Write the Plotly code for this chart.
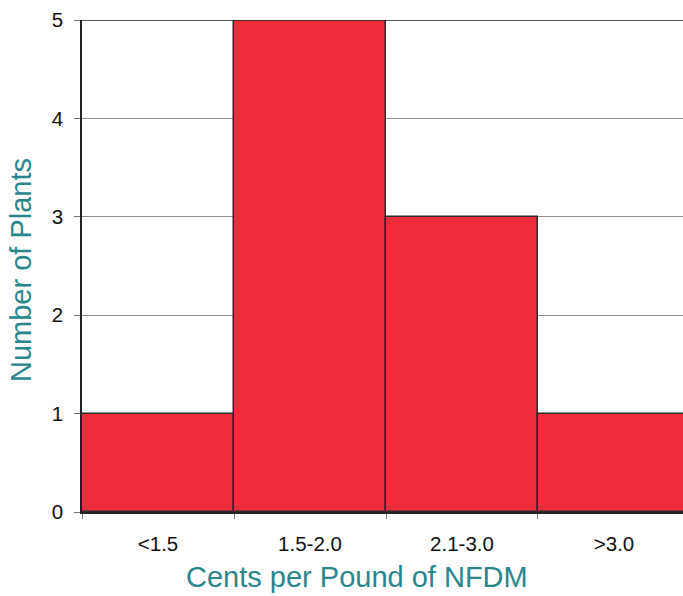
import plotly.graph_objects as go

# Price bins (cents per pound of NFDM) and plant counts per bin
categories = ["<1.5", "1.5-2.0", "2.1-3.0", ">3.0"]
plant_counts = [1, 5, 3, 1]
y_ticks = [0, 1, 2, 3, 4, 5]

TITLE_COLOR = "#2B868C"

fig = go.Figure(
    go.Bar(
        x=categories,
        y=plant_counts,
        marker=dict(color="#EF2D3A", line=dict(color="#2a2a2a", width=1.5)),
        width=1.0,
    )
)

fig.update_layout(
    width=683,
    height=596,
    margin=dict(l=82, r=0, t=20, b=84),
    paper_bgcolor="white",
    plot_bgcolor="white",
    bargap=0,
    showlegend=False,
    font=dict(family="Arial, Liberation Sans, sans-serif", color="#111"),
)

fig.update_xaxes(
    type="category",
    range=[-0.5, 3.454],
    showgrid=False,
    showline=True,
    linecolor="#222",
    linewidth=1.5,
    ticks="outside",
    tickson="boundaries",
    ticklen=5,
    tickcolor="#777",
    tickfont=dict(size=20.5),
    ticklabelstandoff=13,
)

fig.update_yaxes(
    range=[0, 5],
    tickvals=y_ticks,
    showgrid=True,
    gridcolor="#8f8f8f",
    gridwidth=1,
    showline=True,
    linecolor="#222",
    linewidth=1.5,
    ticks="outside",
    ticklen=6,
    tickcolor="#777",
    tickfont=dict(size=20.5),
    ticklabelstandoff=7,
    zeroline=False,
)

# Top border of the plotting area
fig.add_shape(
    type="line", xref="paper", yref="y",
    x0=0, x1=1, y0=5, y1=5,
    line=dict(color="#222", width=1.5),
)

# Axis titles
fig.add_annotation(
    text="Cents per Pound of NFDM",
    xref="paper", yref="paper", x=0.4576, y=0,
    xanchor="center", yanchor="middle", yshift=-65,
    showarrow=False, font=dict(size=29, color=TITLE_COLOR),
)
fig.add_annotation(
    text="Number of Plants",
    xref="paper", yref="paper", x=0, y=0.5,
    xanchor="center", yanchor="middle", xshift=-61, yshift=-4,
    textangle=-90,
    showarrow=False, font=dict(size=29, color=TITLE_COLOR),
)

fig.write_html("out.html")
